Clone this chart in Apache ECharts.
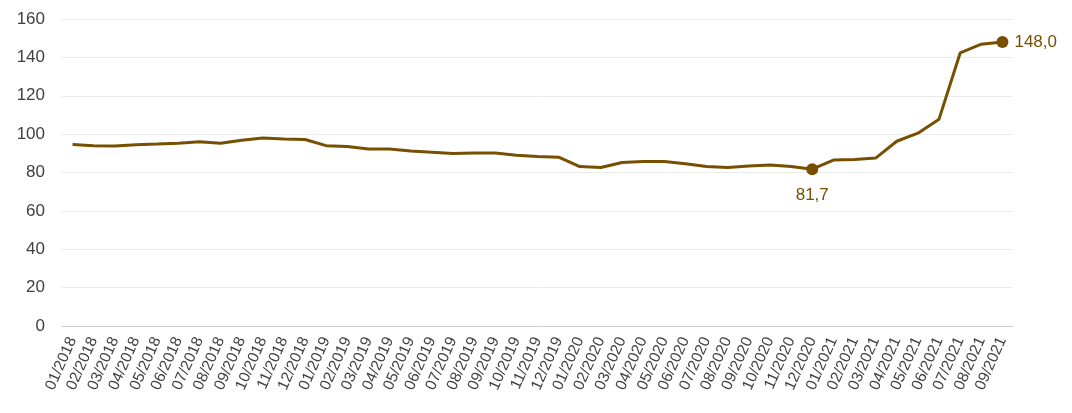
<!DOCTYPE html>
<html>
<head>
<meta charset="utf-8">
<script src="https://cdn.jsdelivr.net/npm/echarts@6/dist/echarts.min.js"></script>
<style>html,body{margin:0;padding:0;background:#fff}#c{width:1072px;height:413px}</style>
</head>
<body>
<div id="c"></div>
<script>
const categories = [
  "01/2018","02/2018","03/2018","04/2018","05/2018","06/2018","07/2018","08/2018","09/2018","10/2018","11/2018","12/2018",
  "01/2019","02/2019","03/2019","04/2019","05/2019","06/2019","07/2019","08/2019","09/2019","10/2019","11/2019","12/2019",
  "01/2020","02/2020","03/2020","04/2020","05/2020","06/2020","07/2020","08/2020","09/2020","10/2020","11/2020","12/2020",
  "01/2021","02/2021","03/2021","04/2021","05/2021","06/2021","07/2021","08/2021","09/2021"
];
const values = [
  94.6, 94.0, 93.8, 94.4, 94.8, 95.3, 96.0, 95.2, 96.8, 98.0, 97.5, 97.2,
  94.0, 93.5, 92.2, 92.2, 91.2, 90.6, 89.9, 90.1, 90.2, 89.0, 88.3, 88.0,
  83.1, 82.6, 85.2, 85.7, 85.7, 84.6, 83.1, 82.6, 83.4, 83.9, 83.1, 81.7,
  86.5, 86.8, 87.5, 96.3, 100.5, 107.8, 142.3, 146.9, 148.0
];
const highlightBelow = ["12/2020"];
const highlightRight = ["09/2021"];
const yTicks = { min: 0, max: 160, interval: 20 };

const color = '#765000';
const fmt = v => v.toFixed(1).replace('.', ',');

const data = values.map((v, i) => {
  const cat = categories[i];
  if (highlightBelow.includes(cat)) {
    return { value: v, symbol: 'circle', symbolSize: 12,
      label: { show: true, position: 'bottom', distance: 12, formatter: p => fmt(p.value), color: color, fontSize: 17, fontFamily: 'Liberation Sans, Arial, sans-serif' } };
  }
  if (highlightRight.includes(cat)) {
    return { value: v, symbol: 'circle', symbolSize: 12,
      label: { show: true, position: 'right', distance: 6, formatter: p => fmt(p.value), color: color, fontSize: 17, fontFamily: 'Liberation Sans, Arial, sans-serif' } };
  }
  return { value: v, symbol: 'none' };
});

const chart = echarts.init(document.getElementById('c'), null, { renderer: 'canvas' });
chart.setOption({
  animation: false,
  grid: { left: 62, right: 59, top: 19, bottom: 87, containLabel: false },
  xAxis: {
    type: 'category',
    data: categories,
    boundaryGap: true,
    axisLine: { show: true, lineStyle: { color: '#cccccc', width: 1 } },
    axisTick: { show: false },
    axisLabel: { interval: 0, rotate: 66, color: '#404040', fontSize: 15.5, fontFamily: 'Liberation Sans, Arial, sans-serif', margin: 12 }
  },
  yAxis: {
    type: 'value',
    min: yTicks.min, max: yTicks.max, interval: yTicks.interval,
    axisLine: { show: false },
    axisTick: { show: false },
    splitLine: { lineStyle: { color: '#ebebeb', width: 1 } },
    axisLabel: { color: '#404040', fontSize: 17, fontFamily: 'Liberation Sans, Arial, sans-serif', margin: 17 }
  },
  series: [{
    type: 'line',
    data: data,
    showSymbol: true,
    lineStyle: { color: color, width: 3 },
    itemStyle: { color: color },
    z: 3
  }]
});
</script>
</body>
</html>
